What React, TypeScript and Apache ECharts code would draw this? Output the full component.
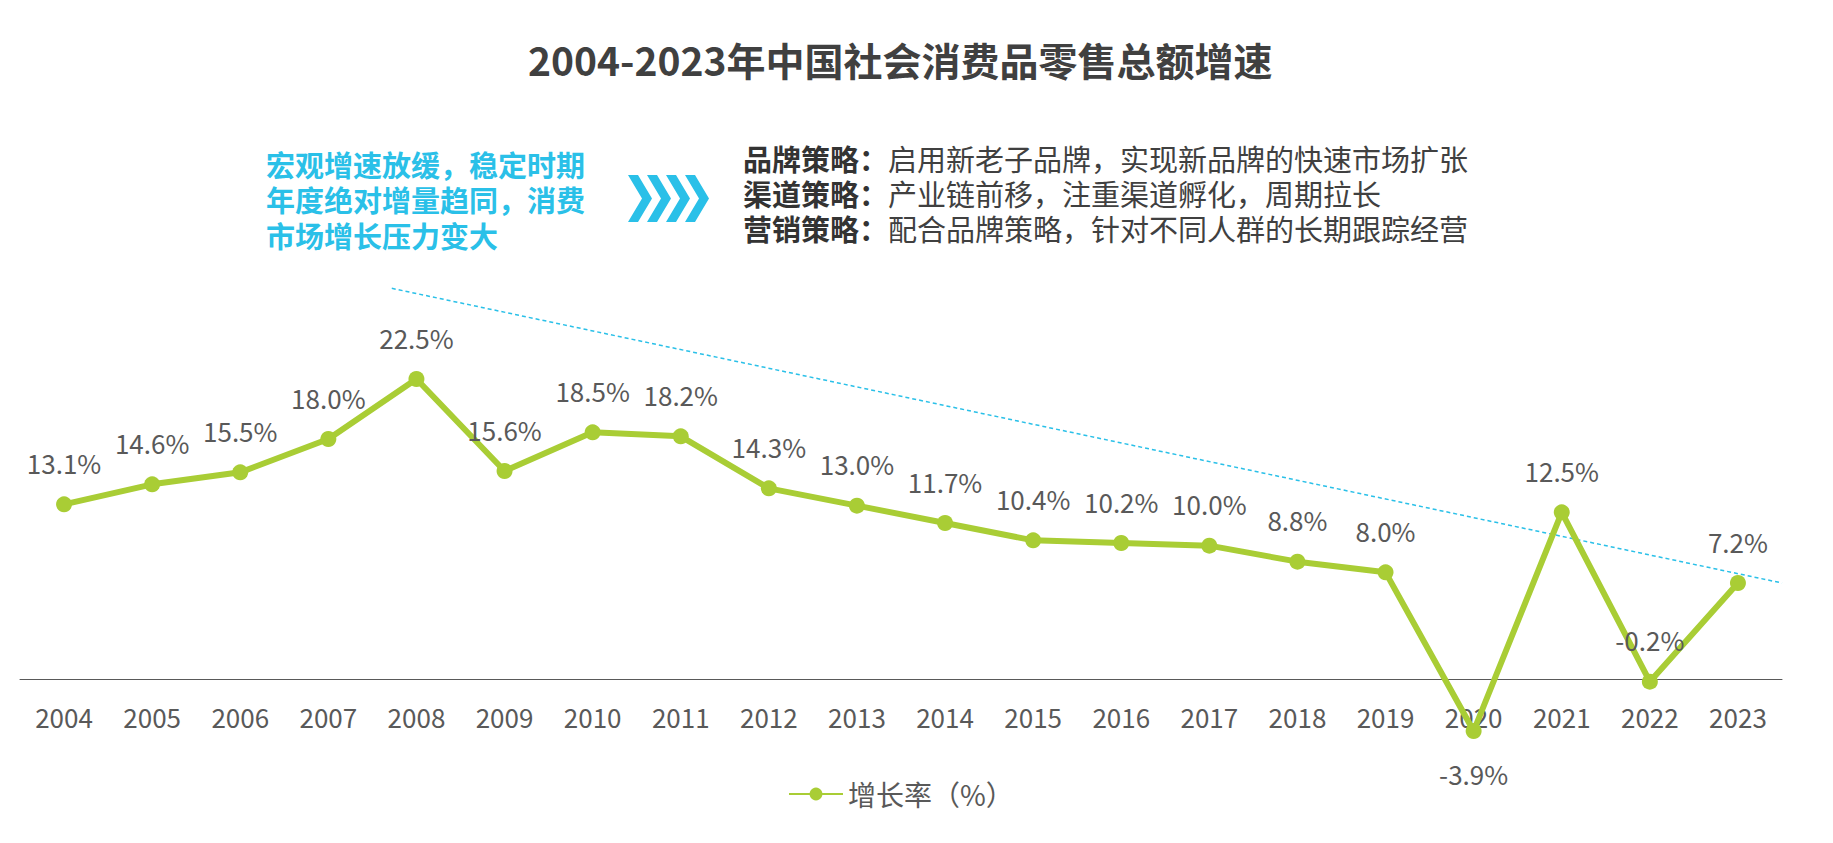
import React, { useEffect, useRef } from "react";
import * as echarts from "echarts";

const years = ["2004","2005","2006","2007","2008","2009","2010","2011","2012","2013","2014","2015","2016","2017","2018","2019","2020","2021","2022","2023"];
const growth = [13.1,14.6,15.5,18.0,22.5,15.6,18.5,18.2,14.3,13.0,11.7,10.4,10.2,10.0,8.8,8.0,-3.9,12.5,-0.2,7.2];
const labelBelow = ["2020"];
const trendLine = [[3.72, 29.3],[19.5, 7.2]];
const seriesName = "增长率（%）";
const titleText = "2004-2023年中国社会消费品零售总额增速";
const leftNote = ["宏观增速放缓，稳定时期","年度绝对增量趋同，消费","市场增长压力变大"];
const strategyLabels = ["品牌策略：","渠道策略：","营销策略："];
const strategyTexts = ["启用新老子品牌，实现新品牌的快速市场扩张","产业链前移，注重渠道孵化，周期拉长","配合品牌策略，针对不同人群的长期跟踪经营"];

const FONT = "'Noto Sans CJK SC', 'Noto Sans', sans-serif";
const GREEN = "#a9cd35";
const CYAN = "#2ac0e8";
const NOTE_SIZE = 29;

export default function App() {
  const ref = useRef<HTMLDivElement>(null);
  useEffect(() => {
    if (!ref.current) return;
    const chart = echarts.init(ref.current, null, { renderer: "svg" });

    const chevrons: any[] = [];
    for (let i = 0; i < 4; i++) {
      const x0 = 628 + i * 19;
      const y0 = 175, h = 47, t = 10, d = 14;
      chevrons.push({
        type: "polygon",
        shape: { points: [[x0, y0],[x0 + t, y0],[x0 + t + d, y0 + h / 2],[x0 + t, y0 + h],[x0, y0 + h],[x0 + d, y0 + h / 2]] },
        style: { fill: CYAN },
      });
    }
    const leftTexts = leftNote.map((s, i) => ({
      type: "text", left: 266, top: 166 + i * 35.6 - 17,
      style: { text: s, fill: CYAN, font: `bold ${NOTE_SIZE}px ${FONT}` },
    }));
    const rightLabels = strategyLabels.map((s, i) => ({
      type: "text", left: 743, top: 160 + i * 35.3 - 17,
      style: { text: s, fill: "#333333", font: `bold ${NOTE_SIZE}px ${FONT}` },
    }));
    const rightTexts = strategyTexts.map((s, i) => ({
      type: "text", left: 743 + NOTE_SIZE * 5, top: 160 + i * 35.3 - 17,
      style: { text: s, fill: "#404040", font: `${NOTE_SIZE}px ${FONT}` },
    }));

    chart.setOption({
      animation: false,
      textStyle: { fontFamily: FONT },
      title: {
        text: titleText, left: 523, top: 34,
        textStyle: { fontFamily: FONT, fontSize: 39, fontWeight: "bold", color: "#404040" },
      },
      legend: {
        data: [seriesName], left: 783, top: 775,
        itemWidth: 54, itemHeight: 16, itemGap: 8,
        textStyle: { fontFamily: FONT, fontSize: 28, color: "#595959" },
      },
      grid: { left: 20, right: 51, top: 279, bottom: 164, containLabel: false },
      xAxis: [
        {
          type: "category", data: years, boundaryGap: true,
          axisLine: { onZero: false, lineStyle: { color: "#595959", width: 1 } },
          axisTick: { show: false },
          axisLabel: { fontFamily: FONT, fontSize: 26, color: "#595959", margin: 24 },
          splitLine: { show: false },
        },
        { type: "value", min: -0.5, max: 19.5, show: false },
      ],
      yAxis: { type: "value", min: 0, max: 30, interval: 10, show: false, splitLine: { show: false } },
      series: [
        {
          name: seriesName, type: "line", xAxisIndex: 0, clip: false,
          data: growth.map((v, i) => labelBelow.includes(years[i])
            ? { value: v, label: { position: "bottom" } }
            : v),
          symbol: "circle", symbolSize: 16,
          lineStyle: { color: GREEN, width: 6 },
          itemStyle: { color: GREEN },
          label: {
            show: true, position: "top", distance: 21,
            fontFamily: FONT, fontSize: 26, color: "#595959",
            formatter: (p: any) => Number(p.value).toFixed(1) + "%",
          },
          z: 3,
        },
        {
          name: "trend", type: "line", xAxisIndex: 1, clip: false,
          data: trendLine, symbol: "none",
          lineStyle: { color: CYAN, width: 1.5, type: [4, 3] },
          silent: true, z: 2,
        },
      ],
      graphic: [...chevrons, ...leftTexts, ...rightLabels, ...rightTexts],
    });
    return () => chart.dispose();
  }, []);
  return <div ref={ref} style={{ width: 1833, height: 843, position: "absolute", left: 0, top: 0 }} />;
}
